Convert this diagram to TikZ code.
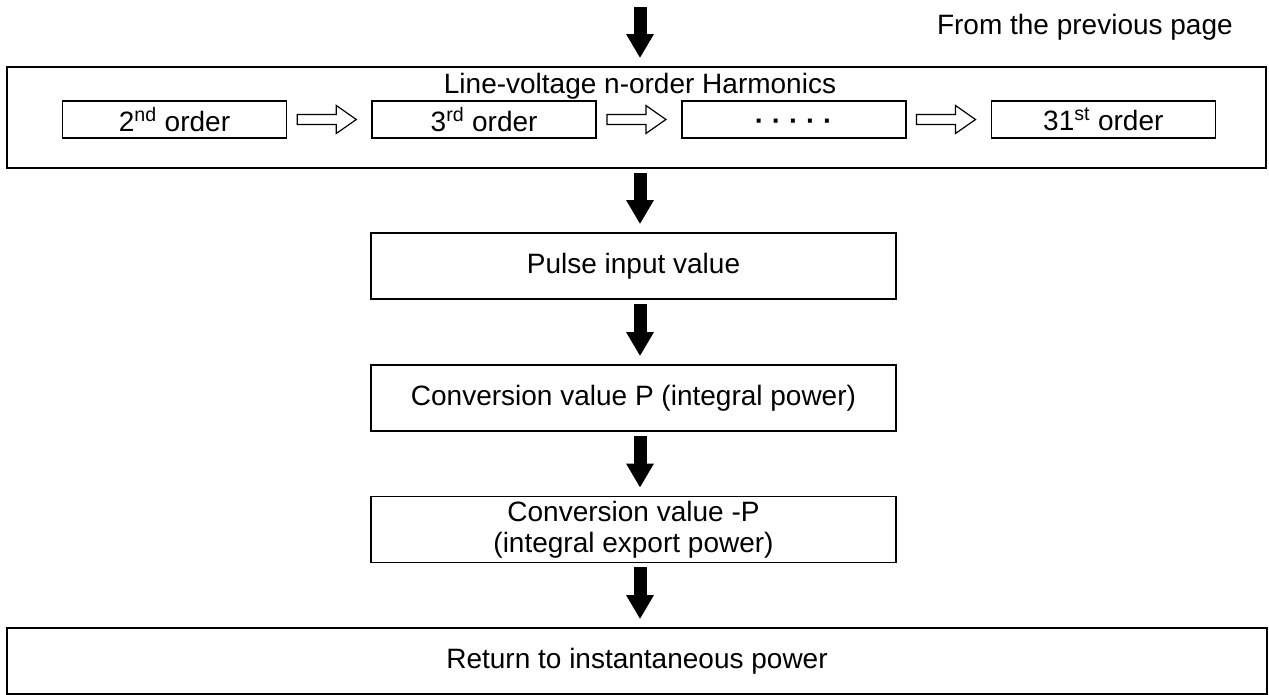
\documentclass[tikz,border=0pt]{standalone}
\usepackage{fontspec}
\setmainfont{Liberation Sans}
\usetikzlibrary{arrows.meta,calc,positioning}
\tikzset{
  stepbox/.style={draw,line width=1.3pt,inner sep=0pt,
    font=\fontsize{21}{23.5}\selectfont,align=center},
  orderbox/.style={stepbox,line width=1.2pt,
    minimum width=168pt,minimum height=27.75pt},
  flowbox/.style={stepbox,minimum width=393.75pt,minimum height=49.5pt},
  widebox/.style={stepbox,minimum width=945pt,minimum height=49.5pt},
  downarrow/.style={line width=9.75pt,
    -{Triangle[length=18pt,width=19.5pt]},
    shorten <=3pt,shorten >=6pt},
  hollowline/.style={draw,line width=0.9pt,fill=white,line join=miter},
  plaintext/.style={inner sep=0pt,font=\fontsize{21}{23.5}\selectfont}
}
% open block arrow from one order box to the next
\newcommand{\hollowarrow}[2]{%
  \draw[hollowline] ($(#1.east)+(10,-5)$) -- ($(#2.west)+(-35,-5)$)
    -- ($(#2.west)+(-35,-14)$) -- ($(#2.west)+(-15,0)$)
    -- ($(#2.west)+(-35,14)$) -- ($(#2.west)+(-35,5)$)
    -- ($(#1.east)+(10,5)$) -- cycle;}

\begin{document}
\begin{tikzpicture}[x=0.75pt,y=-0.75pt]
  \useasboundingbox (0,0) rectangle (1269,695);

  \coordinate (prev) at (640,7);
  \node[plaintext,anchor=base east] (prevtext) at (1233,35)
    {From the previous page};

  % harmonics block
  \node[stepbox,minimum width=944pt,minimum height=75.75pt]
    (harm) at (636.5,117.5) {};
  \node[plaintext,anchor=base] (harmtitle) at (640,94)
    {Line-voltage n-order Harmonics};

  \node[orderbox] (ord2) at (174.5,119.5) {2\textsuperscript{nd} order};
  \node[orderbox,right=63pt of ord2] (ord3) {3\textsuperscript{rd} order};
  \node[orderbox,right=63pt of ord3] (orddots)
    {\raisebox{-8.5pt}[0pt][0pt]{\bfseries · · · · ·}};
  \node[orderbox,right=63pt of orddots] (ord31)
    {31\textsuperscript{st} order};

  \hollowarrow{ord2}{ord3}
  \hollowarrow{ord3}{orddots}
  \hollowarrow{orddots}{ord31}

  % main flow
  \node[flowbox] (pulse) at (633.5,266) {Pulse input value};
  \node[flowbox] (convp) at (633.5,398)
    {Conversion value P (integral power)};
  \node[flowbox] (convn) at (633.5,529.5)
    {Conversion value -P\\(integral export power)};
  \node[widebox] (ret) at (637,661) {Return to instantaneous power};

  \draw[downarrow,shorten <=0pt] (prev) -- (harm.north -| prev);
  \draw[downarrow] (harm.south -| prev) -- (pulse.north -| prev);
  \draw[downarrow] (pulse.south -| prev) -- (convp.north -| prev);
  \draw[downarrow] (convp.south -| prev) -- (convn.north -| prev);
  \draw[downarrow] (convn.south -| prev) -- (ret.north -| prev);

\end{tikzpicture}
\end{document}
